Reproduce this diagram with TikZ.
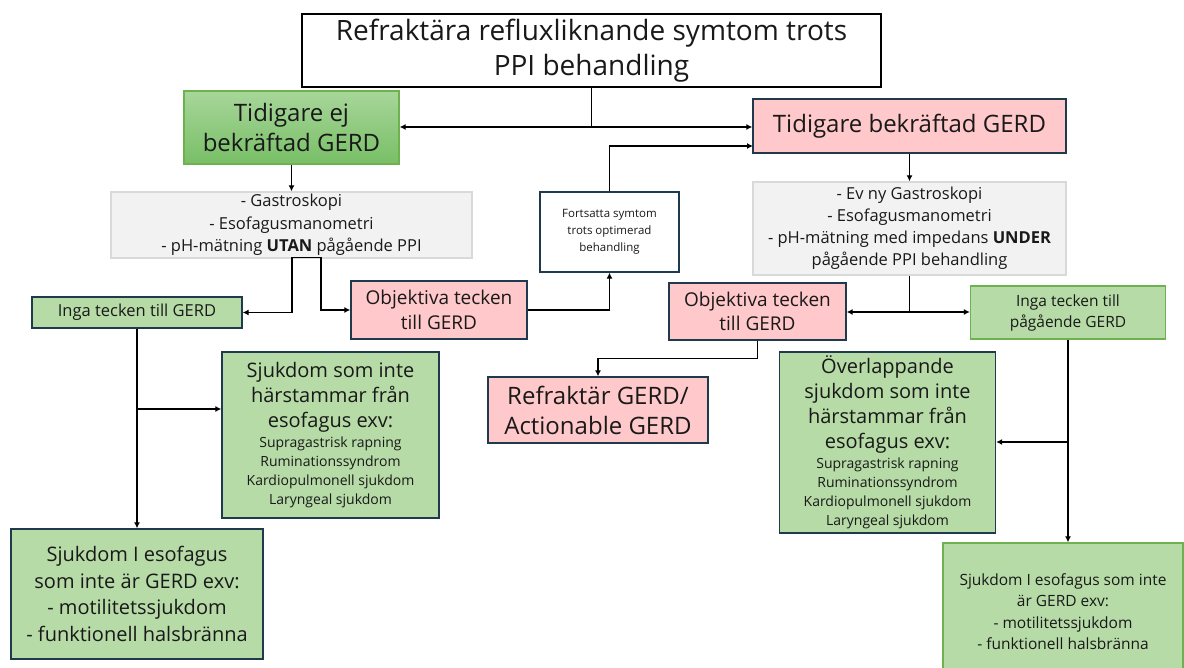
\documentclass[tikz,border=0pt]{standalone}
\usepackage{fontspec}
\setmainfont{Open Sans}
\usetikzlibrary{arrows.meta,calc}
\definecolor{navy}{HTML}{1F3A4D}
\definecolor{pinkfill}{HTML}{FFC8CA}
\definecolor{lgreen}{HTML}{B6DBA7}
\definecolor{gborder}{HTML}{6DB24F}
\definecolor{gtop}{HTML}{A8D69A}
\definecolor{gbot}{HTML}{78BF66}
\definecolor{grayfill}{HTML}{F2F2F2}
\definecolor{grayline}{HTML}{D9D9D9}
\newcommand{\fs}[2]{\fontsize{#1}{#2}\selectfont}
\newcommand{\sm}{\fs{14}{19}}
\begin{document}
\begin{tikzpicture}[x=1pt,y=-1pt,
  base/.style={inner sep=0pt,align=center,line width=1.3pt,text=black!90},
  pinkbox/.style={base,draw=navy,fill=pinkfill},
  greenbox/.style={base,draw=navy,fill=lgreen},
  greenboxg/.style={base,draw=gborder,fill=lgreen},
  graybox/.style={base,draw=grayline,fill=grayfill},
  arr/.style={line width=1.2pt,-{Latex[length=6pt,width=6pt]}},
  ln/.style={line width=1.2pt}]
\useasboundingbox (0,0) rectangle (1184,668);
\clip (0,0) rectangle (1184,668);
\fill[white] (0,0) rectangle (1184,668);

\node[base,draw=black,fill=white,minimum width=579pt,minimum height=73pt,font=\fs{28}{35}] (title) at (591.5,50.5)
  {Refraktära refluxliknande symtom trots\\PPI behandling};
\node[base,draw=gborder,top color=gtop,bottom color=gbot,font=\fs{24}{30},
  minimum width=215pt,minimum height=73pt] (gnot) at (291.5,127.5)
  {Tidigare ej\\bekräftad GERD};
\node[pinkbox,minimum width=313pt,minimum height=54pt,font=\fs{24}{30}] (gyes) at (909.5,126)
  {Tidigare bekräftad GERD};
\node[graybox,minimum width=361pt,minimum height=66pt,font=\fs{16.5}{22.5}] (grayL) at (291.5,225)
  {- Gastroskopi\\- Esofagusmanometri\\- pH-mätning \textbf{UTAN} pågående PPI};
\node[base,draw=navy,fill=white,minimum width=139pt,minimum height=80pt,font=\fs{11.5}{17}] (fort) at (609.5,232)
  {Fortsatta symtom\\trots optimerad\\behandling};
\node[graybox,minimum width=313pt,minimum height=93pt,font=\fs{16.5}{22}] (grayR) at (909.5,228.5)
  {- Ev ny Gastroskopi\\- Esofagusmanometri\\- pH-mätning med impedans \textbf{UNDER}\\pågående PPI behandling};
\node[greenbox,minimum width=210pt,minimum height=31pt,font=\fs{16.5}{20}] (ingaL) at (137,312.5)
  {Inga tecken till GERD};
\node[pinkbox,minimum width=176pt,minimum height=58pt,font=\fs{19}{25}] (objL) at (439,310)
  {Objektiva tecken\\till GERD};
\node[pinkbox,minimum width=177pt,minimum height=57pt,font=\fs{19}{24}] (objR) at (757.5,311.5)
  {Objektiva tecken\\till GERD};
\node[greenboxg,minimum width=195pt,minimum height=53pt,font=\fs{15.5}{21}] (ingaR) at (1068,312.5)
  {Inga tecken till\\pågående GERD};
\node[pinkbox,minimum width=220pt,minimum height=66pt,font=\fs{24}{30}] (refr) at (598,410)
  {Refraktär GERD/\\Actionable GERD};
\node[greenbox,minimum width=217pt,minimum height=166pt,font=\fs{20}{25}] (sjukL) at (330.5,435)
  {Sjukdom som inte\\härstammar från\\esofagus exv:\\[-5pt]
   \sm Supragastrisk rapning\\[-6pt]\sm Ruminationssyndrom\\[-6pt]\sm Kardiopulmonell sjukdom\\[-6pt]\sm Laryngeal sjukdom};
\node[greenbox,minimum width=216pt,minimum height=181pt,font=\fs{20}{25}] (overl) at (887.5,442.5)
  {Överlappande\\sjukdom som inte\\härstammar från\\esofagus exv:\\[-5pt]
   \sm Supragastrisk rapning\\[-6pt]\sm Ruminationssyndrom\\[-6pt]\sm Kardiopulmonell sjukdom\\[-6pt]\sm Laryngeal sjukdom};
\node[greenbox,minimum width=252pt,minimum height=130pt,font=\fs{20}{26.5}] (bottomL) at (137,594)
  {Sjukdom I esofagus\\som inte är GERD exv:\\- motilitetssjukdom\\- funktionell halsbränna};
\node[greenboxg,minimum width=240pt,minimum height=137pt,font=\fs{15.5}{21.5}] (bottomR) at (1063,611.5)
  {Sjukdom I esofagus som inte\\är GERD exv:\\- motilitetssjukdom\\- funktionell halsbränna};

% connectors
\coordinate (j1) at (591.5,127);
\draw[ln] (title.south) -- (j1);
\draw[arr] (j1) -- (gnot.east |- j1);
\draw[arr] (j1) -- (gyes.west |- j1);
\draw[arr] (gnot.south) -- (grayL.north);

\coordinate (bL1) at (292,257.5);
\coordinate (bL2) at (321,257.5);
\draw[ln] (bL1) -- (bL2);
\draw[arr] (bL1) |- (ingaL.east);
\draw[arr] (bL2) |- (objL.west);
\draw[arr] (objL.east) -| (fort.south);
\coordinate (gyesin) at (753,146);
\draw[arr] (fort.north) |- (gyesin);

\draw[arr] (gyes.south) -- (grayR.north);
\coordinate (j2) at (909.5,312);
\draw[ln] (grayR.south) -- (j2);
\draw[arr] (j2) -- (objR.east |- j2);
\draw[arr] (j2) -- (ingaR.west |- j2);
\draw[arr] (objR.south) -- ++(0,18) -| (refr.north);

\draw[arr] (ingaL.south) -- (bottomL.north);
\coordinate (j3) at (137,409);
\draw[arr] (j3) -- (sjukL.west |- j3);

\draw[arr] (ingaR.south) -- (ingaR.south |- bottomR.north);
\coordinate (j4) at (1068,442);
\draw[arr] (j4) -- (overl.east |- j4);
\end{tikzpicture}
\end{document}
